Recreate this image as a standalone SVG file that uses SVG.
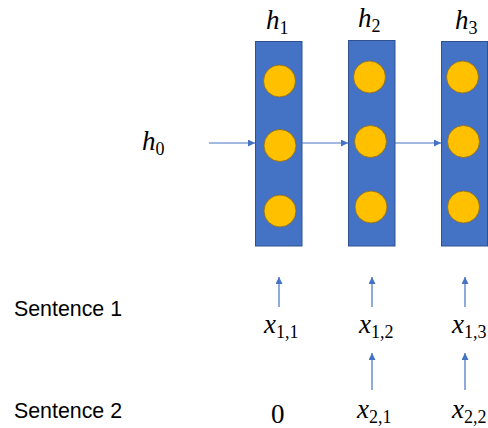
<svg xmlns="http://www.w3.org/2000/svg" width="488" height="428" viewBox="0 0 488 428">
  <style>
    .layer { fill: #4472C4; stroke: #2F528F; stroke-width: 1; }
    .unit { fill: #FFC000; stroke: #8A6A1E; stroke-width: 0.8; }
    .edge { stroke: #4472C4; stroke-width: 1.2; fill: none; marker-end: url(#tip); }
    .math { font-family: "Liberation Serif", "DejaVu Serif", serif; font-size: 27px; fill: #000; }
    .var { font-style: italic; }
    .sub { font-size: 18px; }
    .label { font-family: "Liberation Sans", "DejaVu Sans", sans-serif; font-size: 22px; fill: #000; }
  </style>
  <defs>
    <marker id="tip" viewBox="0 0 10 10" refX="10" refY="5" markerWidth="7" markerHeight="7" markerUnits="userSpaceOnUse" orient="auto">
      <path d="M0,0 L10,5 L0,10 z" fill="#4472C4"/>
    </marker>
  </defs>

  <rect width="488" height="428" fill="#fff"/>

  <!-- hidden-state columns -->
  <g id="h1">
    <rect class="layer" x="255.5" y="41.5" width="46.5" height="204.5"/>
    <circle class="unit" cx="279.5" cy="81" r="16"/>
    <circle class="unit" cx="280" cy="145.5" r="16"/>
    <circle class="unit" cx="280" cy="211" r="16"/>
    <text class="math" x="266" y="29"><tspan class="var">h</tspan><tspan class="sub" dy="5">1</tspan></text>
  </g>
  <g id="h2">
    <rect class="layer" x="348.5" y="40.5" width="46.5" height="205.5"/>
    <circle class="unit" cx="369.5" cy="77" r="16"/>
    <circle class="unit" cx="370.5" cy="141.5" r="16"/>
    <circle class="unit" cx="371" cy="207" r="16"/>
    <text class="math" x="358" y="27"><tspan class="var">h</tspan><tspan class="sub" dy="5">2</tspan></text>
  </g>
  <g id="h3">
    <rect class="layer" x="441.5" y="41.5" width="46" height="204.5"/>
    <circle class="unit" cx="462.5" cy="77" r="16"/>
    <circle class="unit" cx="463.5" cy="141.5" r="16"/>
    <circle class="unit" cx="463.5" cy="207" r="16"/>
    <text class="math" x="455" y="29"><tspan class="var">h</tspan><tspan class="sub" dy="5">3</tspan></text>
  </g>

  <g id="h0">
    <text class="math" x="142" y="150"><tspan class="var">h</tspan><tspan class="sub" dy="5">0</tspan></text>
  </g>

  <!-- row labels -->
  <g id="sentence1"><text class="label" x="14" y="316" textLength="108" lengthAdjust="spacingAndGlyphs">Sentence 1</text></g>
  <g id="sentence2"><text class="label" x="14" y="418" textLength="108" lengthAdjust="spacingAndGlyphs">Sentence 2</text></g>

  <!-- inputs -->
  <g id="x11"><text class="math" x="264" y="333"><tspan class="var">x</tspan><tspan class="sub" dy="5">1,1</tspan></text></g>
  <g id="x12"><text class="math" x="359" y="333"><tspan class="var">x</tspan><tspan class="sub" dy="5">1,2</tspan></text></g>
  <g id="x13"><text class="math" x="452" y="333"><tspan class="var">x</tspan><tspan class="sub" dy="5">1,3</tspan></text></g>
  <g id="zero"><text class="math" x="271" y="423">0</text></g>
  <g id="x21"><text class="math" x="357" y="418"><tspan class="var">x</tspan><tspan class="sub" dy="5">2,1</tspan></text></g>
  <g id="x22"><text class="math" x="452" y="418"><tspan class="var">x</tspan><tspan class="sub" dy="5">2,2</tspan></text></g>

  <!-- connectors -->
  <g id="connectors">
    <line class="edge" x1="209" y1="143" x2="255" y2="143"/>
    <line class="edge" x1="302" y1="143" x2="348" y2="143"/>
    <line class="edge" x1="395" y1="143" x2="441" y2="143"/>
    <line class="edge" x1="279" y1="307" x2="279" y2="277"/>
    <line class="edge" x1="372" y1="307" x2="372" y2="277"/>
    <line class="edge" x1="465" y1="307" x2="465" y2="277"/>
    <line class="edge" x1="372" y1="390" x2="372" y2="353"/>
    <line class="edge" x1="465" y1="390" x2="465" y2="353"/>
  </g>
</svg>
